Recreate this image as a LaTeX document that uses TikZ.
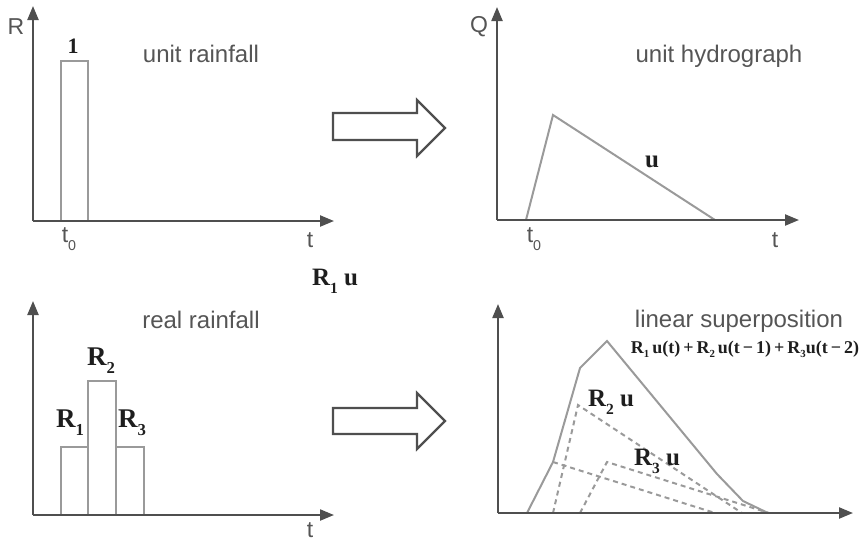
\documentclass[tikz,border=0pt]{standalone}
\usepackage{fontspec}
\usepackage{graphicx}
\setmainfont{Liberation Serif}
\setsansfont{Liberation Sans}
\usetikzlibrary{arrows.meta}
\definecolor{axisc}{HTML}{4F4F4F}
\definecolor{barc}{HTML}{9A9A9A}
\definecolor{txtc}{HTML}{555555}
\definecolor{labc}{HTML}{1E1E1E}
\newcommand{\lsub}[1]{\raisebox{-0.32em}{\scalebox{0.62}{#1}}}
\newcommand{\fsub}[1]{\raisebox{-0.25em}{\scalebox{0.6}{#1}}}
\tikzset{
  axis/.style={draw=axisc, line width=2.2pt, -{Triangle[length=14pt,width=11pt]}},
  barline/.style={draw=barc, line width=2pt},
  dashline/.style={draw=barc, line width=2pt, dash pattern=on 5pt off 4pt},
  hollowarrow/.style={draw=axisc, line width=2.2pt, fill=white, line join=miter},
  axlab/.style={font=\sffamily\fontsize{23}{23}\selectfont, text=txtc, inner sep=0},
  title/.style={font=\sffamily\fontsize{24}{24}\selectfont, text=txtc, anchor=base, inner sep=0},
  boldlab/.style={font=\bfseries\fontsize{25}{25}\selectfont, text=labc, anchor=base, inner sep=0},
  biglab/.style={font=\bfseries\fontsize{27}{27}\selectfont, text=labc, anchor=base, inner sep=0},
  formula/.style={font=\bfseries\fontsize{18}{18}\selectfont, text=labc, anchor=base, inner sep=0},
}
\begin{document}
\begin{tikzpicture}[x=1pt,y=-1pt]
\useasboundingbox (0,0) rectangle (865,542);
% ---------- top left: unit rainfall ----------
\coordinate (o1) at (33,221);
\coordinate (y1) at (33,6);
\coordinate (x1) at (334,221);
\draw[barline] (61,221) rectangle (88,61);
\draw[axis] (o1) -- (y1);
\draw[axis] (o1) -- (x1);
\node[axlab] (lR) at (16,27) {R};
\node[axlab] (lt1) at (310,240) {t};
\node[axlab] (lt01) at (69,239) {t\lsub{0}};
\node[boldlab, font=\bfseries\fontsize{22}{22}\selectfont] (l1) at (73,53) {1};
\node[title] (tit1) at (201,62) {unit rainfall};
% ---------- top right: unit hydrograph ----------
\coordinate (o2) at (497,220);
\coordinate (y2) at (497,7);
\coordinate (x2) at (799,220);
\draw[barline, line join=miter] (526,220) -- (553,115) -- (715,220);
\draw[axis] (o2) -- (y2);
\draw[axis] (o2) -- (x2);
\node[axlab] (lQ) at (479,27) {Q};
\node[axlab] (lt2) at (775,240) {t};
\node[axlab] (lt02) at (534,239) {t\lsub{0}};
\node[boldlab] (lu) at (652,167) {u};
\node[title] (tit2) at (719,62) {unit hydrograph};
% ---------- arrows ----------
\draw[hollowarrow] (333,113) -- (417,113) -- (417,100) -- (445,128) -- (417,156) -- (417,140) -- (333,140) -- cycle;
\draw[hollowarrow] (333,408) -- (417,408) -- (417,393) -- (445,421) -- (417,449) -- (417,434) -- (333,434) -- cycle;
\node[boldlab] (lR1u) at (335,285) {R\lsub{1} u};
% ---------- bottom left: real rainfall ----------
\coordinate (o3) at (33,515);
\coordinate (y3) at (33,301);
\coordinate (x3) at (334,515);
\draw[barline] (61,515) rectangle (88,447);
\draw[barline] (88,515) rectangle (116,381);
\draw[barline] (116,515) rectangle (144,447);
\draw[axis] (o3) -- (y3);
\draw[axis] (o3) -- (x3);
\node[axlab] (lt3) at (310,530) {t};
\node[biglab] (lR1) at (70,427) {R\lsub{1}};
\node[biglab] (lR2) at (101,365) {R\lsub{2}};
\node[biglab] (lR3) at (132,427) {R\lsub{3}};
\node[title] (tit3) at (201,328) {real rainfall};
% ---------- bottom right: linear superposition ----------
\coordinate (o4) at (498,513);
\coordinate (y4) at (498,304);
\coordinate (x4) at (853,513);
% R1 u
\draw[dashline] (553,462) -- (715,513);
% R2 u
\draw[dashline] (553,513) -- (578,405) -- (742,513);
% R3 u
\draw[dashline] (580,513) -- (607,462) -- (769,513);
% sum
\draw[barline, line join=miter] (527,513) -- (553,462) -- (580,368) -- (607,341) -- (717,474) -- (743,501) -- (768,513);
\draw[axis] (o4) -- (y4);
\draw[axis] (o4) -- (x4);
\node[title] (tit4) at (739,327) {linear superposition};
\node[formula] (lform) at (745,353) {R\fsub{1}\,u(t)\,+\,R\fsub{2}\,u(t\,−\,1)\,+\,R\fsub{3}u(t\,−\,2)};
\node[boldlab] (lR2u) at (611,406) {R\lsub{2} u};
\node[boldlab] (lR3u) at (657,465) {R\lsub{3} u};
\end{tikzpicture}
\end{document}
